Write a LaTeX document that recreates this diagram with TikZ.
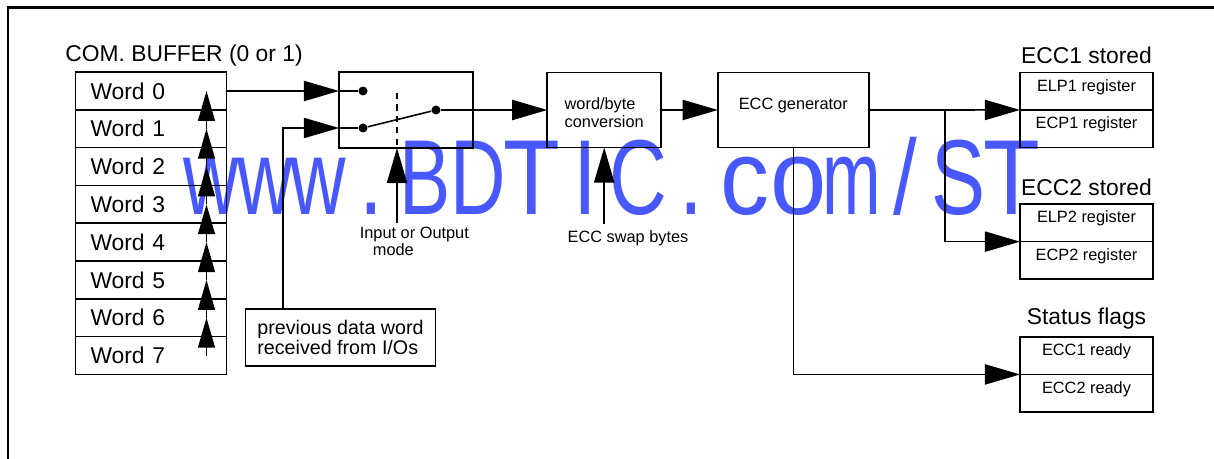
\documentclass[tikz,border=0pt]{standalone}
\usepackage{fontspec}
\setmainfont{Liberation Sans}
\usetikzlibrary{arrows.meta,positioning,calc}
\definecolor{wmblue}{RGB}{72,88,255}
\newcommand{\bigfont}{\fontsize{13}{15}\selectfont}
\newcommand{\midfont}{\fontsize{11.2}{11.3}\selectfont}
\newcommand{\smallfont}{\fontsize{9.3}{8.5}\selectfont}
\newcommand{\wmfont}{\fontsize{60.7}{62}\selectfont}
% one watermark letter in a fixed-width cell, squeezed
\newcommand{\wmchar}[2][0.8]{\makebox[1.068cm]{\scalebox{#1}[1]{#2}}}
\tikzset{
  blk/.style={draw, line width=0.9pt, inner sep=0pt, outer sep=0pt},
  wordrow/.style={blk, minimum width=3.02cm, minimum height=0.756cm,
    text width=2.42cm, align=left, font=\bigfont},
  regcell/.style={blk, minimum width=2.66cm, minimum height=0.75cm,
    font=\smallfont, text height=7.4pt, text depth=7.4pt},
  unitbox/.style={blk, minimum height=1.5cm, font=\smallfont},
  stacklabel/.style={font=\bigfont, anchor=base, inner sep=0pt},
  wire/.style={line width=0.9pt},
  conn/.style={wire, -{Triangle[length=20pt,width=11.5pt]}},
  bufarrow/.style={wire, -{Triangle[length=17pt,width=9.6pt]}},
  contact/.style={circle, fill, inner sep=0pt, minimum size=0.18cm}
}

\begin{document}
\begin{tikzpicture}[x=0.02cm, y=-0.02cm]
  \useasboundingbox (0,0) rectangle (1214,459);
  % watermark behind the diagram
  \node[anchor=base west, inner sep=0pt, text=wmblue, font=\wmfont]
    (wm) at (184.3,215)
    {\wmchar[0.72]{w}\wmchar[0.72]{w}\wmchar[0.72]{w}\wmchar{.}\wmchar[0.72]{B}%
     \wmchar[0.72]{D}\wmchar[0.87]{T}\wmchar{I}\wmchar[0.75]{C}\wmchar{.}%
     \wmchar[0.92]{c}\wmchar[0.95]{o}\wmchar[0.66]{m}\wmchar{/}\wmchar[0.76]{S}\wmchar[0.87]{T}};
  % frame
  \draw[line width=1.7pt] (8,459) -- (8,7.5) -- (1214,7.5);

  % communication buffer
  \node[stacklabel, anchor=base west] (buflabel) at (65,61.7) {COM. BUFFER (0 or 1)};
  \node[wordrow] (w0) at (151,91) {Word 0};
  \foreach \i [count=\j from 0] in {1,...,7}
    \node[wordrow, below=0pt of w\j] (w\i) {Word \i};
  \foreach \i [count=\j from 1] in {0,...,6}
    \draw[bufarrow] ([xshift=-0.4cm]w\j.east) -- ([xshift=-0.4cm]w\i.east);

  % previous data word
  \node[blk, minimum width=3.8cm, minimum height=1.14cm, align=left,
    font=\midfont] (prev) at (340.5,337.3) {previous data word\\received from I/Os};

  % input / output switch
  \node[blk, minimum width=2.68cm, minimum height=1.52cm] (sw) at (406,110) {};
  \node[contact] (dota) at (363,91) {};
  \node[contact] (dotb) at (363,128) {};
  \node[contact] (dotc) at (436,110) {};
  \coordinate (mtop) at (397,93);
  \node[anchor=north west, inner sep=2pt, align=left, font=\smallfont]
    (mode) at (356,223) {Input or Output\\\hspace*{0.8em}mode};

  % word/byte conversion and ECC generator
  \node[unitbox, minimum width=2.28cm] (conv) at (604.2,110) {};
  \node[align=left, inner sep=0pt, font=\fontsize{9.3}{10.2}\selectfont]
    (convtext) at ([yshift=-0.06cm]conv.center) {word/byte\\conversion};
  \node[anchor=north, inner sep=3.4pt, font=\smallfont] (swap) at (628,224)
    {ECC swap bytes};
  \node[unitbox, minimum width=3.02cm, text height=7.4pt, text depth=7.4pt]
    (gen) at (793.3,110) {ECC generator};
  \coordinate (br) at (945,110);

  % stored ECC and status flags
  \node[regcell] (elp1) at (1086.5,91.2) {ELP1 register};
  \node[regcell, below=0pt of elp1] (ecp1) {ECP1 register};
  \node[regcell] (elp2) at (1086.5,222.9) {ELP2 register};
  \node[regcell, below=0pt of elp2] (ecp2) {ECP2 register};
  \node[regcell] (flag1) at (1086.5,355.7) {ECC1 ready};
  \node[regcell, below=0pt of flag1] (flag2) {ECC2 ready};
  \node[stacklabel] (st1) at ([yshift=0.18cm]elp1.north) {ECC1 stored};
  \node[stacklabel] (st2) at ([yshift=0.18cm]elp2.north) {ECC2 stored};
  \node[stacklabel] (st3) at ([yshift=0.24cm]flag1.north) {Status flags};

  % connections
  \draw[conn] (w0.east) -- (w0.east -| sw.west);
  \draw[wire] (w0.east -| sw.west) -- (dota);
  \draw[conn] ([xshift=-1.15cm]prev.north) |- (sw.west |- dotb);
  \draw[wire] (sw.west |- dotb) -- (dotb);
  \draw[wire] (dotb) -- (dotc);
  \draw[conn] (dotc) -- (conv.west);
  \draw[wire, dash pattern=on 3.5pt off 3pt] (mtop) -- (mtop |- sw.south);
  \draw[conn] (mtop |- mode.north) -- (mtop |- sw.south);
  \draw[conn] (conv.east) -- (gen.west);
  \draw[conn] (conv.south |- swap.north) -- (conv.south);
  \draw[conn] (gen.east) -- (elp1.south west);
  \draw[conn] (br) |- (elp2.south west);
  \draw[conn] (gen.south) |- (flag1.south west);
\end{tikzpicture}
\end{document}
